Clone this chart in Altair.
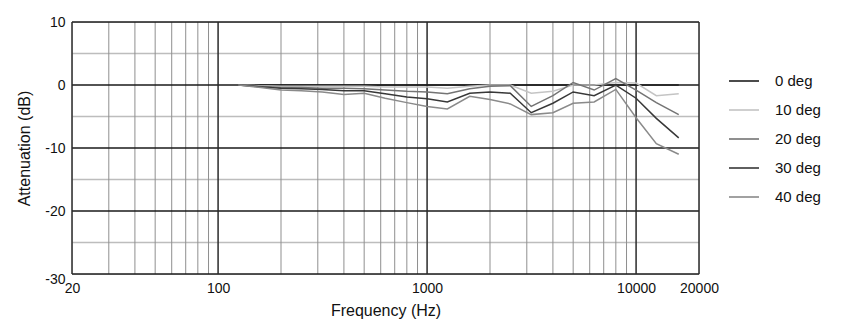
import altair as alt
import pandas as pd

# ---- data ----
freqs = [125, 160, 200, 250, 315, 400, 500, 630, 800, 1000, 1250, 1600, 2000,
         2500, 3150, 4000, 5000, 6300, 8000, 10000, 12500, 16000]
deg0 = [0.0] * 22
deg10 = [0, -0.1, -0.2, -0.2, -0.2, -0.2, -0.2, -0.3, -0.3, -0.3, -0.5, -0.2, 0,
         0, -1.3, -1.0, 0, 0, 0.4, 0.3, -1.7, -1.4]
deg20 = [0, -0.2, -0.4, -0.4, -0.5, -0.5, -0.6, -0.8, -1.0, -1.1, -1.4, -0.6, -0.2,
         -0.1, -3.4, -1.7, 0.4, -0.8, 1.0, -0.8, -2.8, -4.7]
deg30 = [0, -0.3, -0.5, -0.6, -0.7, -0.9, -0.9, -1.4, -1.9, -2.2, -2.7, -1.3, -1.1,
         -1.3, -4.4, -2.9, -1.1, -1.7, 0, -2.1, -5.3, -8.4]
deg40 = [0, -0.4, -0.8, -0.9, -1.1, -1.5, -1.3, -2.1, -2.8, -3.4, -3.8, -1.8, -2.3,
         -3.0, -4.7, -4.4, -2.9, -2.7, -0.7, -5.2, -9.3, -11.0]

series_names = ["0 deg", "10 deg", "20 deg", "30 deg", "40 deg"]
series_vals = [deg0, deg10, deg20, deg30, deg40]
series_colors = ["#1e1e1e", "#c4c4c4", "#747474", "#383838", "#8a8a8a"]

x_tick_labels = [20, 100, 1000, 10000, 20000]
y_tick_labels = [10, 0, -10, -20, -30]

minor_freqs = [30, 40, 50, 60, 70, 80, 90,
               200, 300, 400, 500, 600, 700, 800, 900,
               2000, 3000, 4000, 5000, 6000, 7000, 8000, 9000]
major_freqs = [20, 100, 1000, 10000, 20000]
major_db = [10, 0, -10, -20, -30]
minor_db = [5, -5, -15, -25]

rows = []
for name, vals in zip(series_names, series_vals):
    for f, v in zip(freqs, vals):
        rows.append({"f": f, "db": v, "series": name})
df = pd.DataFrame(rows)

xscale = alt.Scale(type="log", domain=[20, 20000], nice=False)
yscale = alt.Scale(domain=[-30, 10], nice=False, zero=False)

xaxis = alt.Axis(values=x_tick_labels, format="d", grid=False, ticks=False,
                 domain=False, labelFontSize=14, labelPadding=7,
                 labelColor="#111", titleFontSize=16, titleFontWeight="normal",
                 titleColor="#111", titlePadding=7, labelFlush=False)
yaxis = alt.Axis(values=y_tick_labels, grid=False, ticks=False, domain=False,
                 labelExpr="'' + datum.value",
                 labelFontSize=14, labelPadding=7, labelColor="#111",
                 labelBaseline={"condition": {"test": "datum.value == -30", "value": "top"},
                                "value": "middle"},
                 labelOffset={"condition": {"test": "datum.value == -30", "value": -2},
                              "value": 0},
                 titleFontSize=16, titleFontWeight="normal", titleColor="#111",
                 titlePadding=12, labelFlush=False)

X = alt.X("f:Q", scale=xscale, title="Frequency (Hz)", axis=xaxis)
Y = alt.Y("db:Q", scale=yscale, title="Attenuation (dB)", axis=yaxis)

minor_v = alt.Chart(pd.DataFrame({"f": minor_freqs})).mark_rule(
    color="#8f8f8f", strokeWidth=1).encode(x=X)
minor_h = alt.Chart(pd.DataFrame({"db": minor_db})).mark_rule(
    color="#bdbdbd", strokeWidth=1.5).encode(y=Y)
major_v = alt.Chart(pd.DataFrame({"f": major_freqs})).mark_rule(
    color="#2a2a2a", strokeWidth=1.5).encode(x=X)
major_h = alt.Chart(pd.DataFrame({"db": major_db})).mark_rule(
    color="#1a1a1a", strokeWidth=1.5).encode(y=Y)

lines = alt.Chart(df).mark_line(strokeWidth=1.5).encode(
    x=X, y=Y,
    color=alt.Color("series:N",
                    scale=alt.Scale(domain=series_names, range=series_colors),
                    legend=alt.Legend(title=None, orient="none", legendX=656, legendY=43,
                                      symbolType="stroke", symbolSize=900,
                                      symbolStrokeWidth=1.6, labelFontSize=15,
                                      labelColor="#111", labelOffset=15, rowPadding=5)),
    detail="series:N",
)

chart = alt.layer(minor_h, minor_v, major_h, major_v, lines).properties(
    width=627, height=252,
    autosize=alt.AutoSizeParams(type="none"),
    padding={"left": 72, "top": 22, "right": 145, "bottom": 49},
    background="white",
).configure_view(stroke=None).configure(font="Liberation Sans")

chart.save("out.html", embed_options={"renderer": "svg", "actions": False})
